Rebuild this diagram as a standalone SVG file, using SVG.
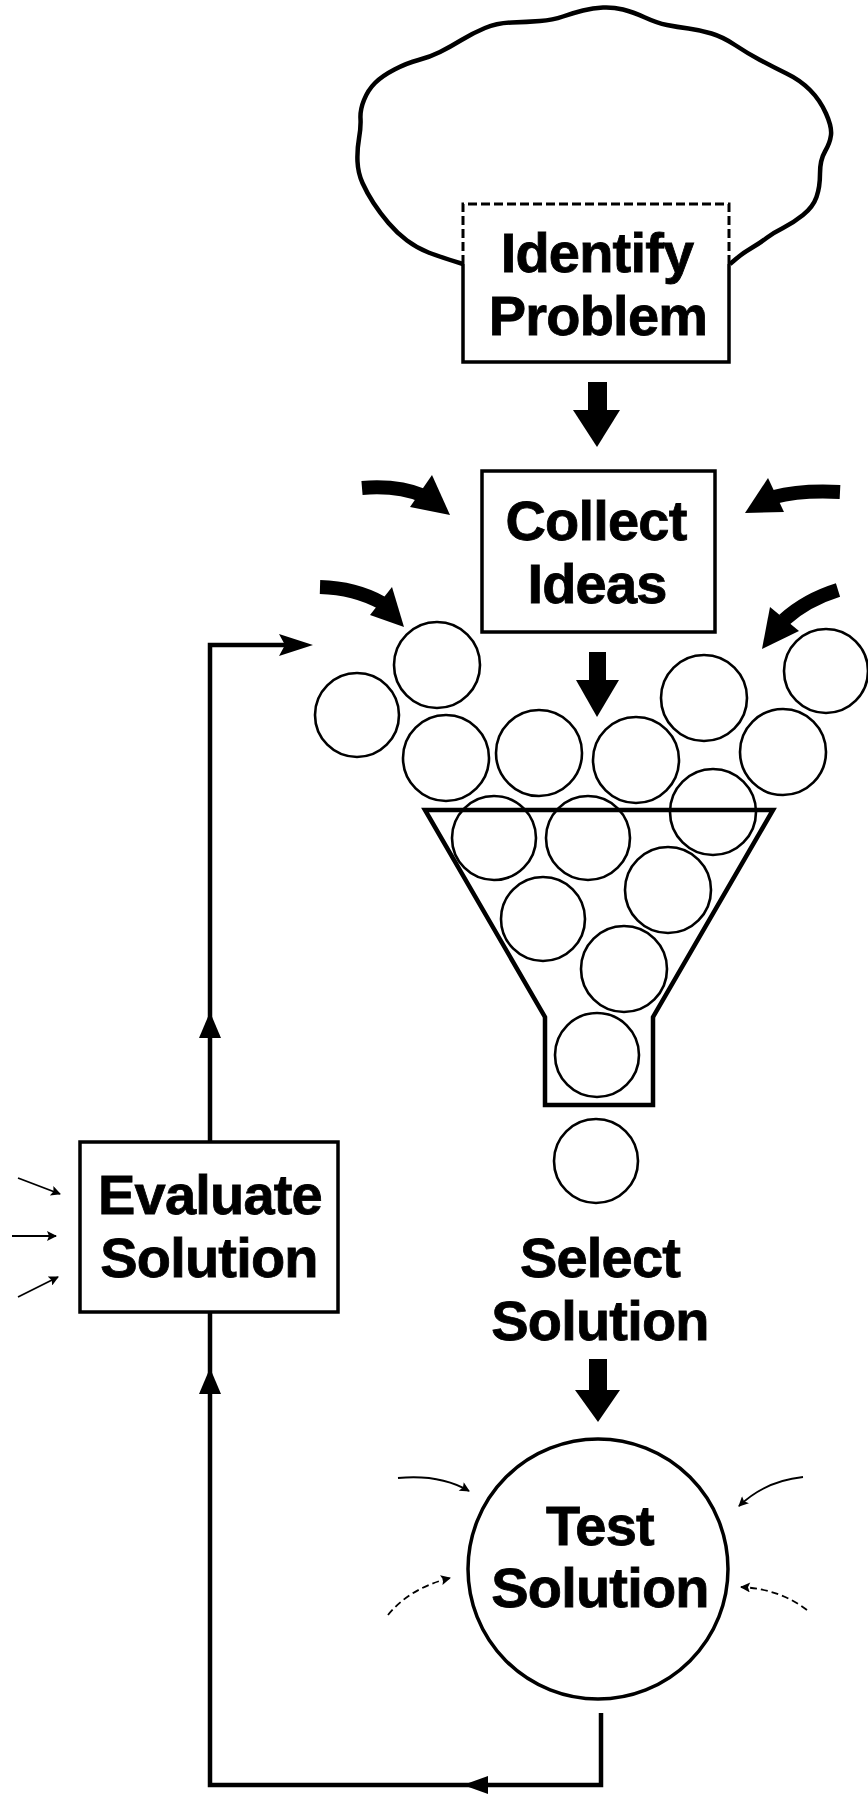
<svg xmlns="http://www.w3.org/2000/svg" width="868" height="1797" viewBox="0 0 868 1797">
<style>
.lbl{font-family:"Liberation Sans",Arial,Helvetica,sans-serif;font-weight:bold;font-size:56px;text-anchor:middle;letter-spacing:-0.8px;fill:#000;stroke:#000;stroke-width:0.8}
.box{fill:none;stroke:#000;stroke-width:3.5}
.ball{fill:none;stroke:#000;stroke-width:2.6}
.thick{fill:none;stroke:#000;stroke-width:14;stroke-linecap:butt}
.loop{fill:none;stroke:#000;stroke-width:4.5}
.thin{fill:none;stroke:#000;stroke-width:1.8}
.dash{stroke-dasharray:7 4}
.head{fill:#000}
</style>
<defs>
<marker id="ah" viewBox="0 0 10 10" refX="9" refY="5" markerUnits="userSpaceOnUse" markerWidth="13" markerHeight="10" orient="auto">
<path d="M0,0 L10,5 L0,10 L2,5 z" fill="#000"/>
</marker>
</defs>
<rect width="868" height="1797" fill="#fff"/>

<g id="cloud">
<path d="M463,264 Q440,257 428.5,252.5 Q417,248 407,240.5 Q397,233 388.5,223 Q380,213 373.5,203 Q367,193 362.5,183 Q358,173 357.5,161.5 Q357,150 359,138.5 Q361,127 360.5,118.5 Q360,110 364,100 Q368,90 375,83 Q382,76 394.5,69.5 Q407,63 418.5,60 Q430,57 440,52 Q450,47 461.5,40 Q473,33 485,28 Q497,23 512,22.5 Q527,22 540,21 Q553,20 563,16.5 Q573,13 583,10.5 Q593,8 603,7.5 Q613,7 623,9.5 Q633,12 645,17.5 Q657,23 667,25 Q677,27 688.5,28.5 Q700,30 711.5,33.5 Q723,37 735,45 Q747,53 760,60 Q773,67 786.5,73.5 Q800,80 810,90 Q820,100 826,113.5 Q832,127 831,135 Q830,143 825,151.5 Q820,160 820,173.5 Q820,187 816.5,197 Q813,207 803,215 Q793,223 783,228 Q773,233 766.5,238 Q760,243 751.5,248 Q743,253 736.5,258.5 L730,264" fill="none" stroke="#000" stroke-width="4.5" stroke-linejoin="round"/>
</g>

<g id="identify-problem">
<path d="M463,264 L463,204 L729,204 L729,264" fill="none" stroke="#000" stroke-width="3" stroke-dasharray="9 4"/>
<path d="M463,264 L463,362 L729,362 L729,264" class="box"/>
<text class="lbl" x="597" y="272">Identify</text>
<text class="lbl" x="598" y="335">Problem</text>
</g>

<g id="collect-ideas">
<rect x="482" y="471" width="233" height="161" class="box"/>
<text class="lbl" x="596" y="540">Collect</text>
<text class="lbl" x="597" y="603">Ideas</text>
</g>

<g id="ideas-circles">
<circle cx="437" cy="665" r="43" class="ball"/>
<circle cx="357" cy="715" r="42" class="ball"/>
<circle cx="446" cy="758" r="43" class="ball"/>
<circle cx="539" cy="753" r="43" class="ball"/>
<circle cx="636" cy="760" r="43" class="ball"/>
<circle cx="704" cy="698" r="43" class="ball"/>
<circle cx="826" cy="671" r="42" class="ball"/>
<circle cx="783" cy="752" r="43" class="ball"/>
<circle cx="713" cy="812" r="43" class="ball"/>
<circle cx="494" cy="838" r="42" class="ball"/>
<circle cx="588" cy="838" r="42" class="ball"/>
<circle cx="543" cy="919" r="42" class="ball"/>
<circle cx="668" cy="890" r="43" class="ball"/>
<circle cx="624" cy="969" r="43" class="ball"/>
<circle cx="597" cy="1055" r="42" class="ball"/>
</g>

<g id="funnel">
<path d="M425,810 L773,810 L653,1017 L653,1105 L545,1105 L545,1017 Z" fill="none" stroke="#000" stroke-width="4.5" stroke-linejoin="miter"/>
</g>

<g id="selected-idea">
<circle cx="596" cy="1161" r="42" class="ball"/>
</g>

<g id="select-solution">
<text class="lbl" x="600" y="1277">Select</text>
<text class="lbl" x="600" y="1340">Solution</text>
</g>

<g id="test-solution">
<circle cx="598" cy="1569" r="130" class="box"/>
<text class="lbl" x="600" y="1545">Test</text>
<text class="lbl" x="600" y="1607">Solution</text>
</g>

<g id="evaluate-solution">
<rect x="80" y="1142" width="258" height="170" class="box"/>
<text class="lbl" x="210" y="1214">Evaluate</text>
<text class="lbl" x="209" y="1277">Solution</text>
</g>

<g id="connectors">
<rect x="588" y="382" width="19" height="30" class="head"/>
<polygon points="573,410 620,410 597,447" class="head"/>
<rect x="589" y="652" width="17" height="30" class="head"/>
<polygon points="576,680 619,680 597,717" class="head"/>
<rect x="589" y="1359" width="18" height="33" class="head"/>
<polygon points="575,1390 620,1390 598,1422" class="head"/>

<path d="M362,488 Q398,485 424,496" class="thick"/>
<polygon points="450,515 432,475 410,507" class="head"/>
<path d="M320,587 Q355,588 382,603" class="thick"/>
<polygon points="404,627 392,587 370,615" class="head"/>
<path d="M840,492 Q800,490 774,497" class="thick"/>
<polygon points="745,513 768,478 784,512" class="head"/>
<path d="M838,590 Q806,600 784,620" class="thick"/>
<polygon points="762,649 770,607 799,631" class="head"/>

<path d="M601,1713 L601,1785 L210,1785 L210,1312" class="loop"/>
<path d="M210,1142 L210,645 L285,645" class="loop"/>
<polygon points="463,1785 488,1776 488,1794" class="head"/>
<polygon points="210,1368 199,1394 221,1394" class="head"/>
<polygon points="210,1012 199,1038 221,1038" class="head"/>
<polygon points="313,645 279,634 285,645 279,656" class="head"/>

<path d="M18,1178 L60,1194" class="thin" marker-end="url(#ah)"/>
<path d="M12,1236 L56,1236" class="thin" marker-end="url(#ah)"/>
<path d="M18,1297 L58,1277" class="thin" marker-end="url(#ah)"/>

<path d="M398,1478 Q440,1474 469,1491" class="thin" marker-end="url(#ah)"/>
<path d="M388,1615 Q410,1588 450,1578" class="thin dash" marker-end="url(#ah)"/>
<path d="M803,1477 Q765,1481 739,1506" class="thin" marker-end="url(#ah)"/>
<path d="M807,1610 Q780,1589 741,1587" class="thin dash" marker-end="url(#ah)"/>
</g>
</svg>
